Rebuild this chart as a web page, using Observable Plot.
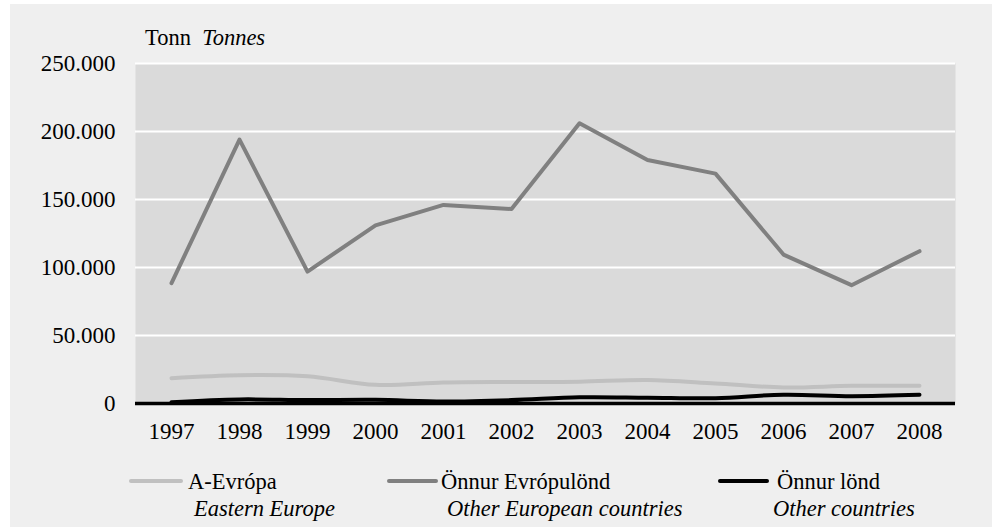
<!DOCTYPE html>
<html>
<head>
<meta charset="utf-8">
<script src="https://cdn.jsdelivr.net/npm/d3@7"></script>
<script src="https://cdn.jsdelivr.net/npm/@observablehq/plot@0.6"></script>
<style>
  body { margin: 0; background: #ffffff; font-family: "Liberation Serif", "Times New Roman", serif; }
  #page { position: relative; width: 996px; height: 527px; overflow: hidden; }
  #bg { position: absolute; left: 10px; top: 4px; width: 982px; height: 540px; background: #efefef; }
  #title { position: absolute; left: 145px; top: 27px; font-size: 22.5px; line-height: 1; color: #000; white-space: pre; }
  #chart { position: absolute; left: 0; top: 50px; }
  .leg-line { position: absolute; height: 4px; border-radius: 2px; }
  .leg-t { position: absolute; font-size: 22.5px; color: #000; white-space: nowrap; line-height: 1; }
  .it { font-style: italic; }
</style>
</head>
<body>
<div id="page">
  <div id="bg"></div>
  <div id="title">Tonn  <span class="it">Tonnes</span></div>
  <div id="chart"></div>
  <div id="legend"></div>
</div>
<script>
const years = ["1997","1998","1999","2000","2001","2002","2003","2004","2005","2006","2007","2008"];
const easternEurope = [18600, 20800, 20000, 13700, 15400, 15800, 16000, 17300, 14700, 11800, 13000, 13000];
const otherEuropean = [88500, 194000, 97000, 131000, 146000, 143000, 206000, 179000, 169000, 109500, 87000, 112000];
const otherCountries = [1000, 3000, 2500, 2700, 1500, 2500, 4600, 4300, 3900, 6500, 5400, 6400];
const seriesNames = ["A-Evrópa", "Önnur Evrópulönd", "Önnur lönd"];
const seriesNamesEn = ["Eastern Europe", "Other European countries", "Other countries"];
const seriesColors = ["#c0c0c0", "#808080", "#000000"];
const yTicks = [0, 50000, 100000, 150000, 200000, 250000];

const locale = d3.formatLocale({decimal: ",", thousands: ".", grouping: [3], currency: ["", ""]});
const fmt = locale.format(",d");

const rows = (vals) => years.map((y, i) => ({year: y, value: vals[i]}));

const chart = Plot.plot({
  width: 996,
  height: 398,
  marginLeft: 135,
  marginRight: 41,
  marginTop: 13,
  marginBottom: 45,
  style: {fontFamily: "'Liberation Serif', 'Times New Roman', serif", fontSize: "23px", color: "#000", background: "transparent"},
  x: {type: "point", domain: years, padding: 0.5, label: null},
  y: {domain: [0, 250000], ticks: yTicks, label: null},
  marks: [
    Plot.frame({fill: "#dadada", stroke: null}),
    Plot.gridY(yTicks, {stroke: "#ffffff", strokeOpacity: 1, strokeWidth: 2}),
    Plot.axisY(yTicks, {tickSize: 0, tickPadding: 20, tickFormat: fmt, fontSize: 23, label: null}),
    Plot.axisX({tickSize: 0, tickPadding: 19, fontSize: 23, label: null}),
    Plot.ruleY([0], {stroke: "#000", strokeWidth: 3.3}),
    Plot.line(rows(easternEurope), {x: "year", y: "value", stroke: seriesColors[0], strokeWidth: 4, curve: "catmull-rom"}),
    Plot.line(rows(otherEuropean), {x: "year", y: "value", stroke: seriesColors[1], strokeWidth: 4, curve: "linear"}),
    Plot.line(rows(otherCountries), {x: "year", y: "value", stroke: seriesColors[2], strokeWidth: 4, curve: "catmull-rom"})
  ]
});
document.getElementById("chart").appendChild(chart);

// legend
const legPos = [
  {lx: 129, lw: 54, tx: 188, ix: 194},
  {lx: 387, lw: 51, tx: 441, ix: 447},
  {lx: 718, lw: 51, tx: 777, ix: 773}
];
const leg = document.getElementById("legend");
seriesNames.forEach((name, i) => {
  const p = legPos[i];
  const l = document.createElement("div");
  l.className = "leg-line";
  l.style.left = p.lx + "px"; l.style.top = "479px"; l.style.width = p.lw + "px";
  l.style.background = seriesColors[i];
  leg.appendChild(l);
  const t = document.createElement("div");
  t.className = "leg-t";
  t.style.left = p.tx + "px"; t.style.top = "471px";
  t.textContent = name;
  leg.appendChild(t);
  const t2 = document.createElement("div");
  t2.className = "leg-t it";
  t2.style.left = p.ix + "px"; t2.style.top = "498px";
  t2.textContent = seriesNamesEn[i];
  leg.appendChild(t2);
});
</script>
</body>
</html>
